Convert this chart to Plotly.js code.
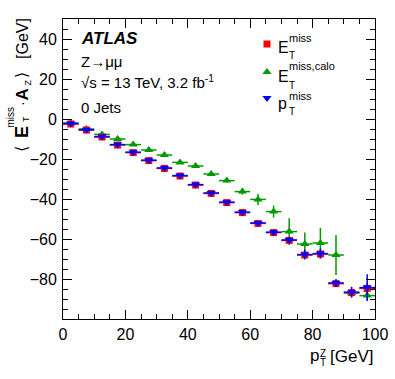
<!DOCTYPE html>
<html>
<head>
<meta charset="utf-8">
<script src="https://cdn.plot.ly/plotly-3.0.1.min.js"></script>
<style>
  html, body { margin: 0; padding: 0; background: #fff; }
  #chart { width: 395px; height: 379px; }
</style>
</head>
<body>
<div id="chart"></div>
<script>
// bin centres of pT(Z), 5 GeV bins
var ptZ = [2.5, 7.5, 12.5, 17.5, 22.5, 27.5, 32.5, 37.5, 42.5, 47.5,
           52.5, 57.5, 62.5, 67.5, 72.5, 77.5, 82.5, 87.5, 92.5, 97.5];
var binHalf = [2.5, 2.5, 2.5, 2.5, 2.5, 2.5, 2.5, 2.5, 2.5, 2.5,
               2.5, 2.5, 2.5, 2.5, 2.5, 2.5, 2.5, 2.5, 2.5, 2.5];

// <E_T^miss . A_Z> for the three reconstructions
var metTrack = [-2.5, -5.5, -9.0, -13.0, -16.8, -20.8, -24.7, -28.5, -33.0, -37.2,
                -41.8, -46.8, -52.2, -56.8, -60.7, -68.0, -67.5, -82.3, -86.8, -84.7];
var metTrackErr = [0.4, 0.4, 0.4, 0.5, 0.5, 0.5, 0.6, 0.6, 0.7, 0.7,
                   0.8, 0.9, 1.0, 1.0, 1.2, 1.5, 2.0, 1.5, 2.0, 3.0];

var metCalo = [-2.0, -5.0, -7.7, -10.0, -12.8, -15.5, -18.0, -21.7, -23.5, -27.5,
               -30.8, -36.3, -40.2, -46.3, -56.3, -62.5, -62.0, -68.0, -87.0, -88.3];
var metCaloErr = [0.4, 0.4, 0.5, 0.5, 0.5, 0.6, 0.6, 0.7, 0.8, 0.9,
                  1.0, 1.5, 2.8, 3.0, 6.7, 5.7, 7.5, 10.0, 2.0, 2.2];

var ptMiss = [-2.3, -5.4, -8.8, -12.8, -16.6, -20.6, -24.5, -28.3, -32.8, -37.0,
              -41.6, -46.6, -52.0, -56.6, -60.5, -67.8, -67.3, -82.0, -86.6, -84.3];
var ptMissErr = [0.4, 0.4, 0.4, 0.5, 0.5, 0.5, 0.6, 0.6, 0.7, 0.7,
                 0.8, 0.9, 1.0, 1.2, 1.5, 2.5, 2.5, 2.0, 2.7, 6.7];

var yTicks = [-80, -60, -40, -20, 0, 20, 40];
var xTicks = [0, 20, 40, 60, 80, 100];

var RED = '#ff0000', GREEN = '#009a00', BLUE = '#0000ff';
var FONT = 'Liberation Sans, Arial, Helvetica, sans-serif';

// plot area in pixels: x 63..375, y 19..319
function ax(px) { return (px - 63) / 312; }
function ay(py) { return (319 - py) / 300; }

function series(y, err, color, symbol, size) {
    return {
        x: ptZ, y: y, type: 'scatter', mode: 'markers',
        marker: { color: color, symbol: symbol, size: size },
        error_x: { type: 'data', array: binHalf, color: color, thickness: 1.5, width: 0 },
        error_y: { type: 'data', array: err, color: color, thickness: 1.5, width: 0 },
        showlegend: false, hoverinfo: 'skip'
    };
}

function legendMark(px, py, color, symbol, size) {
    return {
        x: [ax(px)], y: [ay(py)], xaxis: 'x2', yaxis: 'y2',
        type: 'scatter', mode: 'markers', cliponaxis: false,
        marker: { color: color, symbol: symbol, size: size },
        showlegend: false, hoverinfo: 'skip'
    };
}

function txt(text, px, py, size, anchor, angle) {
    return {
        xref: 'paper', yref: 'paper', x: ax(px), y: ay(py),
        xanchor: anchor || 'left', yanchor: 'middle',
        text: text, showarrow: false, textangle: angle || 0,
        font: { family: FONT, size: size, color: 'black' }
    };
}

var data = [
    series(metCalo, metCaloErr, GREEN, 'triangle-up', 8),
    series(metTrack, metTrackErr, RED, 'square', 7),
    series(ptMiss, ptMissErr, BLUE, 'triangle-down', 8),
    legendMark(267, 44, RED, 'square', 7),
    legendMark(267, 72, GREEN, 'triangle-up', 8),
    legendMark(267, 98, BLUE, 'triangle-down', 8)
];

var annotations = [
    // labels in the top left corner
    txt('<b><i>ATLAS</i></b>', 79, 38.5, 17),
    txt('Z\u2192\u03bc\u03bc', 79, 61, 15),
    txt('\u221as = 13 TeV, 3.2 fb<sup>-1</sup>', 79, 81.5, 15),
    txt('0 Jets', 79, 107, 15),
    // legend text
    txt('E', 276, 47.5, 16),
    txt('miss', 287, 38, 11),
    txt('T', 287, 55.5, 10),
    txt('E', 276, 76.5, 16),
    txt('miss,calo', 287, 66, 11),
    txt('T', 287, 85.5, 10),
    txt('p', 276, 103, 16),
    txt('miss', 287, 96, 11),
    txt('T', 287, 111, 10),
    // x axis title
    txt('p', 321, 355.5, 17, 'right'),
    txt('Z', 317.5, 353, 10),
    txt('T', 317.5, 362, 10),
    txt('[GeV]', 375, 356.5, 17, 'right'),
    // y axis title, rotated
    txt('[GeV]', 22, 39, 16, 'center', -90),
    txt('\u27e9', 21, 75, 16, 'center', -90),
    txt('Z', 27, 82.5, 9, 'center', -90),
    txt('<b>A</b>', 22, 94.5, 17, 'center', -90),
    txt('\u00b7', 22, 104, 14, 'center', -90),
    txt('miss', 9.5, 117, 10, 'center', -90),
    txt('T', 26.5, 119.5, 9, 'center', -90),
    txt('<b>E</b>', 21.5, 132.5, 18, 'center', -90),
    txt('\u27e8', 21, 148.5, 16, 'center', -90)
];

var axisStyle = {
    showline: true, linecolor: 'black', linewidth: 1, mirror: 'ticks',
    ticks: 'inside', ticklen: 9, tickwidth: 1, tickcolor: 'black',
    showgrid: false, zeroline: false,
    tickfont: { family: FONT, size: 16, color: 'black' },
    minor: { ticks: 'inside', ticklen: 5, tickwidth: 1, tickcolor: 'black', dtick: 5, showgrid: false }
};

var layout = {
    width: 395, height: 379,
    margin: { l: 63, r: 20, t: 19, b: 60, pad: 0 },
    paper_bgcolor: 'white', plot_bgcolor: 'white',
    showlegend: false,
    xaxis: Object.assign({}, axisStyle, {
        range: [0, 100], tickvals: xTicks, ticklabelstandoff: 1
    }),
    yaxis: Object.assign({}, axisStyle, {
        range: [-100, 50], tickvals: yTicks, ticklabelstandoff: 2
    }),
    xaxis2: { overlaying: 'x', range: [0, 1], visible: false, fixedrange: true },
    yaxis2: { overlaying: 'y', range: [0, 1], visible: false, fixedrange: true },
    annotations: annotations
};

Plotly.newPlot('chart', data, layout, { staticPlot: true, displayModeBar: false });
</script>
</body>
</html>
